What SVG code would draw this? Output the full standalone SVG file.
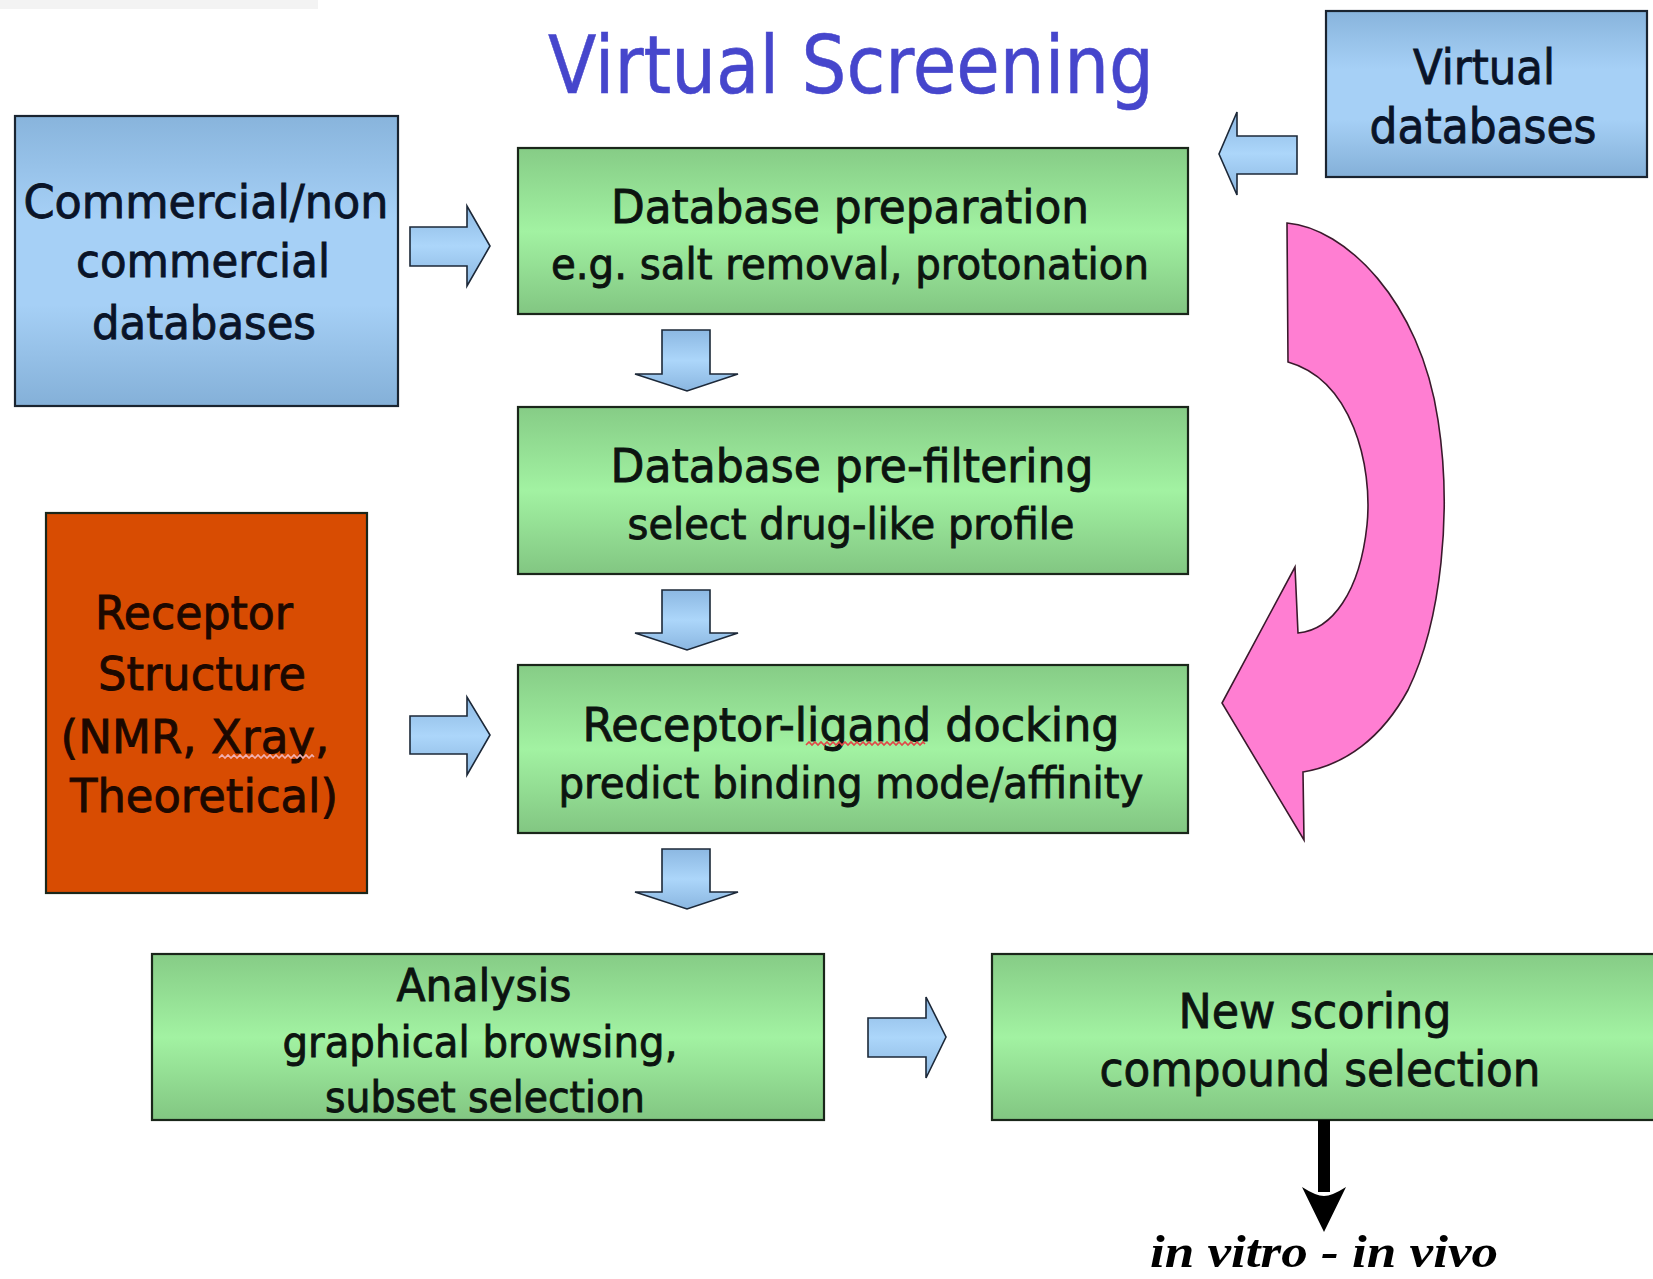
<svg xmlns="http://www.w3.org/2000/svg" width="1653" height="1279" viewBox="0 0 1653 1279">
<defs>
<linearGradient id="gGreen" x1="0" y1="0" x2="0" y2="1">
<stop offset="0" stop-color="#86cc86"/>
<stop offset="0.5" stop-color="#a2f2a2"/>
<stop offset="1" stop-color="#82c682"/>
</linearGradient>
<linearGradient id="gBlue" x1="0" y1="0" x2="0" y2="1">
<stop offset="0" stop-color="#88b4dc"/>
<stop offset="0.35" stop-color="#a6d0f6"/>
<stop offset="0.65" stop-color="#a6d0f6"/>
<stop offset="1" stop-color="#84b0d8"/>
</linearGradient>
<linearGradient id="gArrow" x1="0" y1="0" x2="0" y2="1">
<stop offset="0" stop-color="#8cb8e2"/>
<stop offset="0.5" stop-color="#acd6fa"/>
<stop offset="1" stop-color="#8ab6e0"/>
</linearGradient>
<style>
.box{stroke:#1a261a;stroke-width:2.2}
.green{fill:url(#gGreen)}
.blue{fill:url(#gBlue);stroke:#1a2430}
.barrow{fill:url(#gArrow);stroke:#1c2838;stroke-width:1.6;stroke-linejoin:miter}
.t{font-family:"DejaVu Sans",Verdana,sans-serif;text-anchor:middle;fill:#0c1410;stroke:#0c1410;stroke-width:0.9}
.tb{fill:#0a1428;stroke:#0a1428}
.tr{fill:#1c0800;stroke:#1c0800}
.big{font-size:46px}
.wavy{fill:none;stroke-width:1.6}
</style>
</defs>
<rect x="0" y="0" width="1653" height="1279" fill="#ffffff"/>
<rect x="0" y="0" width="318" height="9" fill="#f3f3f3"/>

<text x="851" y="93" font-family="'DejaVu Sans',Verdana,sans-serif" font-size="80" fill="#4646cc" stroke="#4646cc" stroke-width="0.6" text-anchor="middle" textLength="606" lengthAdjust="spacingAndGlyphs">Virtual Screening</text>

<g id="commercial">
<rect class="box blue" x="15" y="116" width="383" height="290"/>
<text class="t tb big" x="206" y="218" textLength="365" lengthAdjust="spacingAndGlyphs">Commercial/non</text>
<text class="t tb big" x="203" y="277" textLength="254" lengthAdjust="spacingAndGlyphs">commercial</text>
<text class="t tb big" x="204" y="339" textLength="224" lengthAdjust="spacingAndGlyphs">databases</text>
</g>

<g id="virtual">
<rect class="box blue" x="1326" y="11" width="321" height="166"/>
<text class="t tb" font-size="48" x="1484" y="84" textLength="142" lengthAdjust="spacingAndGlyphs">Virtual</text>
<text class="t tb" font-size="48" x="1483" y="143" textLength="227" lengthAdjust="spacingAndGlyphs">databases</text>
</g>

<g id="prep">
<rect class="box green" x="518" y="148" width="670" height="166"/>
<text class="t big" x="850" y="223" textLength="478" lengthAdjust="spacingAndGlyphs">Database preparation</text>
<text class="t" font-size="42" x="850" y="279" textLength="598" lengthAdjust="spacingAndGlyphs">e.g. salt removal, protonation</text>
</g>

<g id="prefilter">
<rect class="box green" x="518" y="407" width="670" height="167"/>
<text class="t big" x="852" y="482" textLength="483" lengthAdjust="spacingAndGlyphs">Database pre-filtering</text>
<text class="t" font-size="42" x="851" y="539" textLength="447" lengthAdjust="spacingAndGlyphs">select drug-like profile</text>
</g>

<g id="docking">
<rect class="box green" x="518" y="665" width="670" height="168"/>
<text class="t big" x="851" y="741" textLength="537" lengthAdjust="spacingAndGlyphs">Receptor-ligand docking</text>
<text class="t" font-size="42" x="851" y="798" textLength="585" lengthAdjust="spacingAndGlyphs">predict binding mode/affinity</text>
<path class="wavy" stroke="#e04848" d="M806,745 l3,-3 l3,3 l3,-3 l3,3 l3,-3 l3,3 l3,-3 l3,3 l3,-3 l3,3 l3,-3 l3,3 l3,-3 l3,3 l3,-3 l3,3 l3,-3 l3,3 l3,-3 l3,3 l3,-3 l3,3 l3,-3 l3,3 l3,-3 l3,3 l3,-3 l3,3 l3,-3 l3,3 l3,-3 l3,3 l3,-3 l3,3 l3,-3 l3,3 l3,-3 l3,3 l3,-3 l2,2"/>
</g>

<g id="receptor">
<rect class="box" x="46" y="513" width="321" height="380" fill="#d84c02"/>
<text class="t tr big" x="194" y="629" textLength="198" lengthAdjust="spacingAndGlyphs">Receptor</text>
<text class="t tr big" x="202" y="690" textLength="208" lengthAdjust="spacingAndGlyphs">Structure</text>
<text class="t tr big" x="195" y="753" textLength="269" lengthAdjust="spacingAndGlyphs">(NMR, Xray,</text>
<text class="t tr big" x="204" y="812" textLength="268" lengthAdjust="spacingAndGlyphs">Theoretical)</text>
<path class="wavy" stroke="#f2b0b0" d="M219,758 l3,-3 l3,3 l3,-3 l3,3 l3,-3 l3,3 l3,-3 l3,3 l3,-3 l3,3 l3,-3 l3,3 l3,-3 l3,3 l3,-3 l3,3 l3,-3 l3,3 l3,-3 l3,3 l3,-3 l3,3 l3,-3 l3,3 l3,-3 l3,3 l3,-3 l3,3 l3,-3 l3,3 l3,-3 l2,2"/>
</g>

<g id="analysis">
<rect class="box green" x="152" y="954" width="672" height="166"/>
<text class="t" font-size="44" x="484" y="1001" textLength="175" lengthAdjust="spacingAndGlyphs">Analysis</text>
<text class="t" font-size="42" x="480" y="1057" textLength="395" lengthAdjust="spacingAndGlyphs">graphical browsing,</text>
<text class="t" font-size="42" x="485" y="1112" textLength="320" lengthAdjust="spacingAndGlyphs">subset selection</text>
</g>

<g id="scoring">
<rect class="box green" x="992" y="954" width="670" height="166"/>
<text class="t" font-size="48" x="1315" y="1028" textLength="273" lengthAdjust="spacingAndGlyphs">New scoring</text>
<text class="t" font-size="48" x="1320" y="1086" textLength="441" lengthAdjust="spacingAndGlyphs">compound selection</text>
</g>

<g id="invitro">
<text x="1324" y="1267" font-family="'Liberation Serif','Times New Roman',serif" font-style="italic" font-weight="bold" font-size="46" fill="#000" text-anchor="middle" textLength="348" lengthAdjust="spacingAndGlyphs">in vitro - in vivo</text>
</g>

<g id="connectors">
<polygon class="barrow" points="410,227 467,227 467,206 490,246 467,286 467,266 410,266"/>
<polygon class="barrow" points="410,716 467,716 467,697 490,735 467,775 467,754 410,754"/>
<polygon class="barrow" points="868,1018 926,1018 926,997 946,1037 926,1078 926,1057 868,1057"/>
<polygon class="barrow" points="1297,136 1237,136 1237,112 1219,154 1237,195 1237,174 1297,174"/>
<polygon class="barrow" points="662,330 710,330 710,374 738,374 687,391 635,374 662,374"/>
<polygon class="barrow" points="662,590 710,590 710,633 738,633 687,650 635,633 662,633"/>
<polygon class="barrow" points="662,849 710,849 710,892 738,892 687,909 635,892 662,892"/>
<path d="M1287,223 C1345,228 1420,300 1438,420 C1452,510 1442,620 1408,690 C1382,738 1345,765 1303,772 L1304,840 L1222,703 L1295,567 L1298,633 C1332,630 1360,592 1367,525 C1373,465 1352,380 1288,362 Z" fill="#ff7ed2" stroke="#3a1a2c" stroke-width="1.6"/>
<line x1="1324" y1="1120" x2="1324" y2="1192" stroke="#000" stroke-width="12"/>
<path d="M1302,1187 Q1316,1196 1324,1196 Q1332,1196 1346,1187 L1324,1232 Z" fill="#000"/>
</g>
</svg>
